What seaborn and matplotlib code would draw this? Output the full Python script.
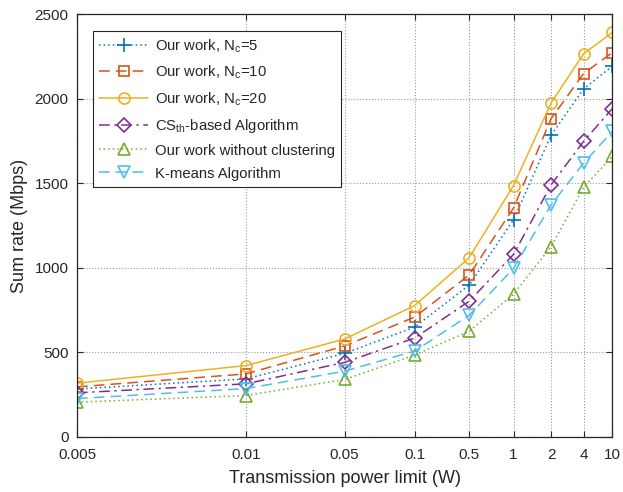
import seaborn as sns
import matplotlib.pyplot as plt

# data
power_labels = ["0.005", "0.01", "0.05", "0.1", "0.5", "1", "2", "4", "10"]
x_pos = [1, 2, 3, 4, 5, 6, 7, 8, 9]  # equally indexed, shown on a log axis

rate_nc5 = [284, 343, 494, 650, 897, 1284, 1783, 2057, 2192]
rate_nc10 = [296, 373, 538, 709, 957, 1353, 1881, 2148, 2272]
rate_nc20 = [318, 422, 579, 777, 1059, 1486, 1974, 2265, 2391]
rate_csth = [261, 314, 441, 585, 802, 1079, 1490, 1747, 1941]
rate_noclust = [206, 245, 340, 484, 625, 844, 1125, 1476, 1658]
rate_kmeans = [227, 286, 389, 508, 719, 996, 1372, 1619, 1806]

labels = [
    r"Our work, N$_\mathregular{c}$=5",
    r"Our work, N$_\mathregular{c}$=10",
    r"Our work, N$_\mathregular{c}$=20",
    r"CS$_\mathregular{th}$-based Algorithm",
    "Our work without clustering",
    "K-means Algorithm",
]

sns.set_theme(style="ticks")
plt.rcParams["font.family"] = ["Liberation Sans", "DejaVu Sans"]
plt.rcParams["mathtext.fontset"] = "custom"
plt.rcParams["mathtext.rm"] = "Liberation Sans"

fig = plt.figure(figsize=(6.23, 4.92), dpi=100)
ax = fig.add_axes([0.1236, 0.1118, 0.8592, 0.8597])

# matlab-ish line styles
dotted = (0, (1, 2))
dashed = (0, (7, 4))
dashdot = (0, (7, 3, 1.5, 3))

series = [
    (rate_nc5, "#0072BD", dotted, "+", 10),
    (rate_nc10, "#D95319", dashed, "s", 7),
    (rate_nc20, "#EDB120", "-", "o", 8),
    (rate_csth, "#7E2F8E", dashdot, "D", 7),
    (rate_noclust, "#77AC30", dotted, "^", 8),
    (rate_kmeans, "#4DBEEE", dashed, "v", 8),
]

for (vals, col, ls, mk, ms), lab in zip(series, labels):
    sns.lineplot(
        x=x_pos, y=vals, ax=ax, color=col, linestyle=ls, linewidth=1.1,
        marker=mk, markersize=ms, markerfacecolor="none",
        markeredgecolor=col, markeredgewidth=1.2, label=lab,
    )

ax.set_xscale("log")
ax.set_xlim(1, 9)
ax.set_ylim(0, 2500)
ax.set_xticks(x_pos)
ax.set_xticklabels(power_labels)
ax.set_xticks([], minor=True)
ax.set_yticks([0, 500, 1000, 1500, 2000, 2500])

ax.grid(True, linestyle=":", color="#9a9a9a", linewidth=0.8)
ax.tick_params(direction="in", top=True, right=True, labelsize=11,
               length=4, width=0.8, colors="#262626", labelcolor="#262626")
ax.tick_params(axis="x", pad=8)
ax.tick_params(axis="y", pad=6)
for sp in ax.spines.values():
    sp.set_color("#262626")
    sp.set_linewidth(0.9)

ax.set_xlabel("Transmission power limit (W)", fontsize=13, color="#262626",
              labelpad=6)
ax.set_ylabel("Sum rate (Mbps)", fontsize=13, color="#262626", labelpad=5)

leg = ax.legend(loc="upper left", bbox_to_anchor=(0.030, 0.960),
                borderaxespad=0, fancybox=False, framealpha=1,
                edgecolor="#262626", fontsize=10.7, handlelength=3.3,
                handletextpad=0.5, labelspacing=0.6)
leg.get_frame().set_linewidth(0.8)

plt.savefig("out.png", dpi=100)
